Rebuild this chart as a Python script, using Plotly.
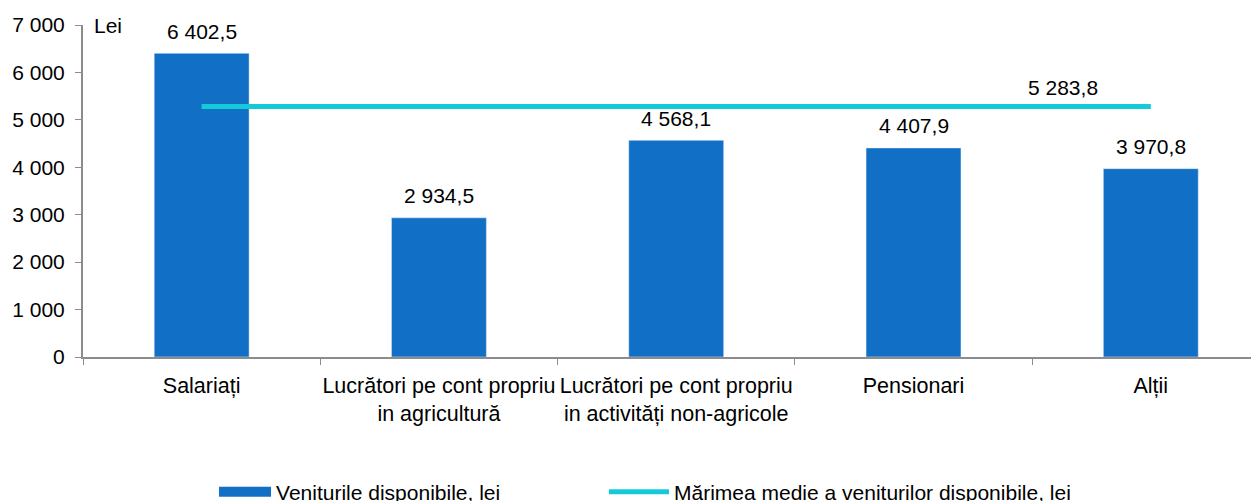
import plotly.graph_objects as go

categories = ["Salariați", "Lucrători pe cont propriu<br>in agricultură",
              "Lucrători pe cont propriu<br>in activități non-agricole",
              "Pensionari", "Alții"]
venituri = [6402.5, 2934.5, 4568.1, 4407.9, 3970.8]
media = 5283.8
y_ticks = [0, 1000, 2000, 3000, 4000, 5000, 6000, 7000]

bar_color = "#1170C6"
line_color = "#14CAD8"
axis_color = "#8C8C8C"
font = "Liberation Sans, Arial, sans-serif"

fig = go.Figure()
fig.add_trace(go.Bar(
    x=categories, y=venituri, name="Veniturile disponibile, lei",
    marker_color=bar_color, width=0.4, legendgroup="bar", showlegend=False,
))
# intrare de legenda pentru bare: dreptunghi lat, ca in original
fig.add_trace(go.Scatter(
    x=[None], y=[None], mode="lines", name="Veniturile disponibile, lei",
    line=dict(color=bar_color, width=11), legendgroup="bar", legend="legend",
))
fig.add_trace(go.Scatter(
    x=[categories[0], categories[-1]], y=[media, media],
    name="Mărimea medie a veniturilor disponibile, lei",
    mode="lines", line=dict(color=line_color, width=5), legend="legend2",
))

# etichete de valori deasupra barelor
for cat, val in zip(categories, venituri):
    fig.add_annotation(x=cat, y=val, text=f"{val:,.1f}".replace(",", " ").replace(".", ","),
                       showarrow=False, yshift=22, yanchor="middle")

fig.add_annotation(x=3.63, y=media, xref="x", yref="y", text="5 283,8",
                   showarrow=False, yshift=19, yanchor="middle")
fig.add_annotation(x=0.008, y=1.0, xref="x domain", yref="y domain", text="Lei",
                   showarrow=False, xanchor="left", yanchor="middle")

# pagina are margine de 8px, figura e micsorata ca sa incapa
fig.update_layout(
    width=1251, height=493,
    margin=dict(l=75, r=0, t=17, b=144),
    plot_bgcolor="white", paper_bgcolor="white",
    separators=", ",
    font=dict(family=font, size=21, color="black"),
    showlegend=True,
    legend=dict(orientation="h", xref="container", yref="container",
                x=0.1647, y=0.018, xanchor="left", yanchor="middle",
                font=dict(size=21), itemwidth=52),
    legend2=dict(orientation="h", xref="container", yref="container",
                 x=0.4764, y=0.018, xanchor="left", yanchor="middle",
                 font=dict(size=21), itemwidth=60),
)
fig.update_xaxes(
    range=[-0.5, 4.456], showline=True, linecolor=axis_color, linewidth=2,
    ticks="outside", tickson="boundaries", ticklen=6, tickcolor=axis_color,
    showgrid=False, ticklabelstandoff=8, automargin=False,
    tickfont=dict(size=21.5), tickangle=0,
)
fig.update_yaxes(
    range=[0, 7000], tickvals=y_ticks, tickformat=",", showline=True,
    linecolor=axis_color, linewidth=2, ticks="outside", ticklen=6,
    tickcolor=axis_color, showgrid=False, zeroline=False, automargin=False,
    tickfont=dict(size=21), ticklabelstandoff=6,
)

fig.write_html("out.html")
